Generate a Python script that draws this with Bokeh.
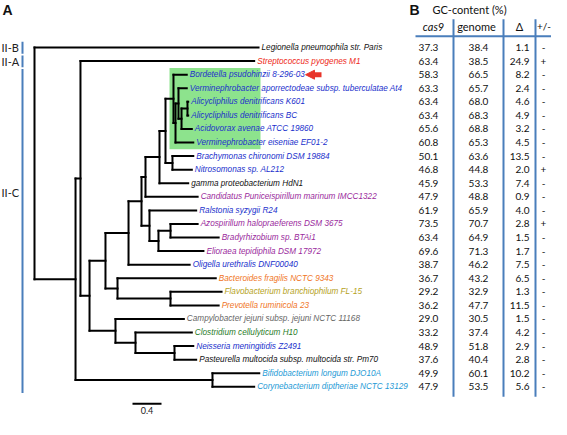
from bokeh.plotting import figure
from bokeh.models import Range1d, Arrow, NormalHead
from bokeh.embed import file_html
from bokeh.resources import INLINE
from bokeh.core.properties import value

# ---------------- data ----------------
leaves = [
    "Legionella pneumophila str. Paris",
    "Streptococcus pyogenes M1",
    "Bordetella psudohinzii 8-296-03",
    "Verminephrobacter aporrectodeae subsp. tuberculatae At4",
    "Alicycliphilus denitrificans K601",
    "Alicycliphilus denitrificans BC",
    "Acidovorax avenae ATCC 19860",
    "Verminephrobacter eiseniae EF01-2",
    "Brachymonas chironomi DSM 19884",
    "Nitrosomonas sp. AL212",
    "gamma proteobacterium HdN1",
    "Candidatus Puniceispirillum marinum IMCC1322",
    "Ralstonia syzygii R24",
    "Azospirillum halopraeferens DSM 3675",
    "Bradyrhizobium sp. BTAi1",
    "Elioraea tepidiphila DSM 17972",
    "Oligella urethralis DNF00040",
    "Bacteroides fragilis NCTC 9343",
    "Flavobacterium branchiophilum FL-15",
    "Prevotella ruminicola 23",
    "Campylobacter jejuni subsp. jejuni NCTC 11168",
    "Clostridium cellulyticum H10",
    "Neisseria meningitidis Z2491",
    "Pasteurella multocida subsp. multocida str. Pm70",
    "Bifidobacterium longum DJO10A",
    "Corynebacterium diptheriae NCTC 13129",
]
BLK, RED, BLU, PUR, ORA, OLV, GRY, GRN, CYA = ("#111111", "#ee2a1a", "#2130cc", "#9a2a9c",
                                               "#f07526", "#b5a21c", "#666666", "#2a7d2a", "#1e9ad6")
leaf_colors = [BLK, RED, BLU, BLU, BLU, BLU, BLU, BLU, BLU, BLU, BLK, PUR, BLU, PUR, PUR, PUR,
               BLU, ORA, OLV, ORA, GRY, GRN, BLU, BLK, CYA, CYA]
# distance of each tip from the root (tree units)
leaf_depth = [3.09, 3.03, 2.10, 2.10, 2.12, 2.12, 2.17, 2.19, 2.19, 2.17, 2.12, 2.25, 2.23,
              2.25, 2.54, 2.33, 2.14, 2.50, 2.58, 2.54, 2.06, 2.17, 2.19, 2.23, 3.10, 3.03]
# internal nodes: name, children (leaf index or node name), depth from root
node_names = ["R", "A", "B", "C", "D", "F", "I", "J", "L", "M", "GR", "X", "Y", "Z", "AL",
              "BN", "K", "N", "O", "G", "H", "E", "P", "Q", "BC"]
node_kids = [(0, "A"), ("B", "BC"), (1, "C"), ("D", "E"), ("F", "G"), ("I", 16), ("J", "K"),
             ("L", 11), ("M", 10), ("GR", "BN"), (2, "X"), ("Y", 7), (3, "Z"), ("AL", 6),
             (4, 5), (8, 9), (12, "N"), ("O", 15), (13, 14), (17, "H"), (18, 19), (20, "P"),
             (21, "Q"), (22, 23), (24, 25)]
node_depth = [0.0, 0.566, 0.634, 0.759, 0.979, 1.297, 1.476, 1.531, 1.724, 1.807, 1.917,
              1.945, 1.986, 2.028, 2.110, 1.903, 1.586, 1.710, 1.876, 1.145, 1.876, 1.117,
              1.393, 1.931, 2.455]

cas9_gc = [37.3, 63.4, 58.3, 63.3, 63.4, 63.4, 65.6, 60.8, 50.1, 46.8, 45.9, 47.9, 61.9,
           73.5, 63.4, 69.6, 38.7, 36.7, 29.2, 36.2, 29.0, 33.2, 48.9, 37.6, 49.9, 47.9]
genome_gc = [38.4, 38.5, 66.5, 65.7, 68.0, 68.3, 68.8, 65.3, 63.6, 44.8, 53.3, 48.8, 65.9,
             70.7, 64.9, 71.3, 46.2, 43.2, 32.9, 47.7, 30.5, 37.4, 51.8, 40.4, 60.1, 53.5]
delta_gc = [1.1, 24.9, 8.2, 2.4, 4.6, 4.9, 3.2, 4.5, 13.5, 2.0, 7.4, 0.9, 4.0, 2.8, 1.5,
            1.7, 7.5, 6.5, 1.3, 11.5, 1.5, 4.2, 2.9, 2.8, 10.2, 5.6]
plus_minus = ["-", "+", "-", "-", "-", "-", "-", "-", "-", "+", "-", "-", "-", "+", "-", "-",
              "-", "-", "-", "-", "-", "-", "-", "-", "-", "-"]
col_headers = ["cas9", "genome", "\u0394", "+/-"]
table_title = "GC-content (%)"
subtype_names = ["II-B", "II-A", "II-C"]
subtype_rows = [(0, 0), (1, 1), (2, 25)]
green_clade = (2, 7)
arrow_leaf = 2
scale_len = 0.4

# ---------------- geometry helpers ----------------
PX_PER_UNIT = 72.5
ROOT_X = 42.0
ROW0_Y, ROW_H = 55.5, 13.7

def U(X):      # reference pixel x -> tree units
    return (X - ROOT_X) / PX_PER_UNIT

def R(Y):      # reference pixel y -> row units
    return (Y - ROW0_Y) / ROW_H

LINE_BLUE = "#4a7ebb"

p = figure(width=551, height=419, output_backend="svg", toolbar_location=None,
           x_range=Range1d(U(8), U(559)), y_range=Range1d(R(431), R(8)),
           x_axis_location=None, y_axis_location=None, min_border=0)
p.extra_x_ranges = {"px": Range1d(8, 559)}
p.grid.visible = False
p.outline_line_color = None
p.background_fill_color = "white"
p.border_fill_color = "white"

# ---------------- tree ----------------
idx = {n: i for i, n in enumerate(node_names)}

def ypos(k):
    if isinstance(k, int):
        return float(k)
    a, b = node_kids[idx[k]]
    return (ypos(a) + ypos(b)) / 2.0

def dpos(k):
    return leaf_depth[k] if isinstance(k, int) else node_depth[idx[k]]

# green highlight for the clade
p.quad(left=U(177), right=U(268), top=green_clade[0] - 0.5, bottom=green_clade[1] + 0.5,
       fill_color="#8de38d", line_color=None)

x0, y0, x1, y1 = [], [], [], []
for n, (a, b), d in zip(node_names, node_kids, node_depth):
    ya, yb = ypos(a), ypos(b)
    x0.append(d); y0.append(ya); x1.append(d); y1.append(yb)
    for c, yc in ((a, ya), (b, yb)):
        x0.append(d); y0.append(yc); x1.append(dpos(c)); y1.append(yc)
p.segment(x0=x0, y0=y0, x1=x1, y1=y1, line_color="black", line_width=2, line_cap="square")

rows = list(range(len(leaves)))
p.text(x=leaf_depth, y=rows, text=leaves, text_color=leaf_colors, x_offset=3,
       text_font=value("Liberation Sans"), text_font_style="italic", text_font_size="8.2px",
       text_baseline="middle", text_align="left")

# red arrow pointing at Bordetella
p.add_layout(Arrow(x_start=329, x_end=313, y_start=arrow_leaf, y_end=arrow_leaf,
                   x_range_name="px", line_color="#e8342a", line_width=5,
                   end=NormalHead(size=9, fill_color="#e8342a", line_color="#e8342a")))

# scale bar
sb_x = U(140)
p.segment(x0=[sb_x], y0=[R(415)], x1=[sb_x + scale_len], y1=[R(415)], line_color="black",
          line_width=2)
p.text(x=[sb_x + scale_len / 2], y=[R(422)], text=[f"{scale_len}"], text_align="center",
       text_baseline="middle", text_font=value("Lato"), text_font_size="9px", text_color="#222222")

# subtype bars
for name, (a, b) in zip(subtype_names, subtype_rows):
    p.segment(x0=[30], y0=[a - 0.42], x1=[30], y1=[b + 0.45], x_range_name="px",
              line_color=LINE_BLUE, line_width=2)
lab_rows = [0, 1, 10.7]
p.text(x=[9, 9, 9], y=lab_rows, text=subtype_names, x_range_name="px",
       text_font=value("Lato"), text_font_size="11px", text_baseline="middle",
       text_color="#222222")

# panel letters
p.text(x=[10, 417], y=[R(10), R(10)], text=["A", "B"], x_range_name="px",
       text_font=value("Liberation Sans"), text_font_style="bold", text_font_size="14px",
       text_baseline="top", text_color="#111111")

# ---------------- table ----------------
p.text(x=[477], y=[R(17)], text=[table_title], x_range_name="px", text_align="center",
       text_baseline="middle", text_font=value("Lato"), text_font_size="11px", text_color="#111111")
hdr_x = [441, 484, 527, 551.5]
hdr_size = ["11px", "11px", "11px", "10px"]
for t, hx, hs in zip(col_headers, hdr_x, hdr_size):
    p.text(x=[hx], y=[R(34)], text=[t], x_range_name="px", text_align="center",
           text_baseline="middle", text_font=value("Lato"), text_font_size=hs,
           text_font_style="italic" if t == "cas9" else "normal", text_color="#111111")

num_kw = dict(x_range_name="px", text_baseline="middle", text_font=value("Lato"),
              text_font_size="10px", text_color="#111111")
n = len(rows)
p.text(x=[436] * n, y=rows, text=[f"{v:.1f}" for v in cas9_gc], text_align="center", **num_kw)
p.text(x=[486] * n, y=rows, text=[f"{v:.1f}" for v in genome_gc], text_align="center", **num_kw)
p.text(x=[537] * n, y=rows, text=[f"{v:.1f}" for v in delta_gc], text_align="right", **num_kw)
p.text(x=[551] * n, y=rows, text=plus_minus, text_align="center", **num_kw)

# table rules
for vx in (461, 511, 543):
    p.segment(x0=[vx], y0=[R(27)], x1=[vx], y1=[R(408)], x_range_name="px",
              line_color=LINE_BLUE, line_width=2)
p.segment(x0=[423], y0=[R(44)], x1=[559], y1=[R(44)], x_range_name="px",
          line_color=LINE_BLUE, line_width=2)

open("out.html", "w").write(file_html(p, INLINE))
